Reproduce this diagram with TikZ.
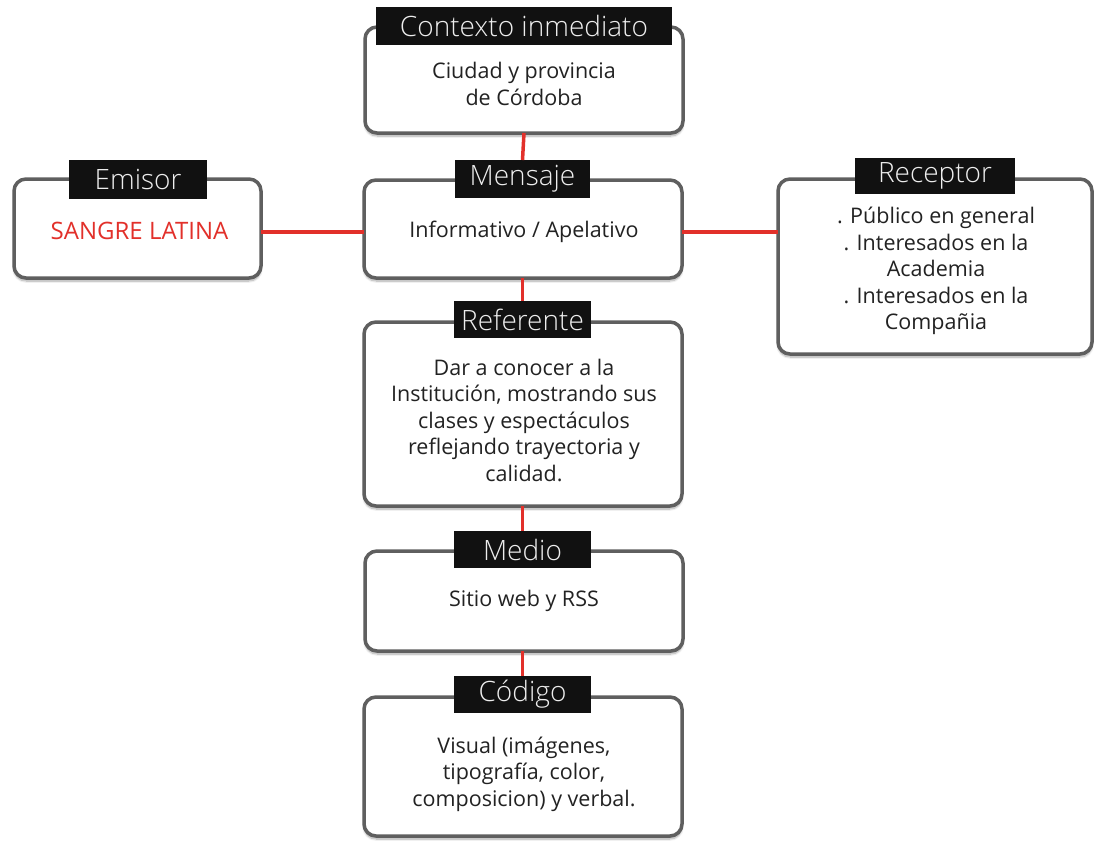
\documentclass[tikz,border=0pt]{standalone}
\usepackage{fontspec}
\setmainfont{Open Sans}
\IfFontExistsTF{Open Sans Light}{\newfontfamily\lblfont{Open Sans Light}}{\newfontfamily\lblfont{Open Sans}}
\usetikzlibrary{shadows.blur}
\definecolor{boxgray}{HTML}{5F5F5F}
\definecolor{lblack}{HTML}{111111}
\definecolor{linered}{HTML}{E2302A}
\definecolor{bodytext}{HTML}{222222}
\definecolor{lbltext}{HTML}{EEEEEE}
\begin{document}
\begin{tikzpicture}[x=1pt,y=-1pt,
  box/.style={draw=boxgray, line width=3.5pt, rounded corners=12pt, fill=white,
    blur shadow={shadow xshift=0pt, shadow yshift=-3pt, shadow blur steps=8, shadow opacity=35},
    inner sep=0pt, outer sep=0pt},
  lbl/.style={fill=lblack, text=lbltext, font=\lblfont\fontsize{28}{30}\selectfont, inner sep=0pt, outer sep=0pt},
  body/.style={font=\fontsize{21.5}{26.5}\selectfont, align=center, text=bodytext},
  link/.style={draw=linered, line width=3.5pt}]
\useasboundingbox (0,0) rectangle (1094,841);
% boxes
\node[box, minimum width=318pt, minimum height=106pt] (ctx) at (524,80) {};
\node[box, minimum width=247pt, minimum height=99pt] (emi) at (137.5,228.5) {};
\node[box, minimum width=318pt, minimum height=98pt] (msg) at (523,229) {};
\node[box, minimum width=314pt, minimum height=175pt] (rec) at (935,266.5) {};
\node[box, minimum width=318pt, minimum height=184pt] (ref) at (523,414) {};
\node[box, minimum width=318pt, minimum height=100pt] (med) at (524,601) {};
\node[box, minimum width=318pt, minimum height=139pt] (cod) at (523,766.5) {};
% labels
\node[lbl, minimum width=296pt, minimum height=38pt] (ctxl) at (524,26) {Contexto inmediato};
\node[lbl, minimum width=138pt, minimum height=39pt] (emil) at (138,179.5) {Emisor};
\node[lbl, minimum width=135pt, minimum height=38pt] (msgl) at (522.5,179) {Mensaje};
\node[lbl, minimum width=160pt, minimum height=36pt] (recl) at (935,176) {Receptor};
\node[lbl, minimum width=137pt, minimum height=37pt] (refl) at (522.5,319.5) {Referente};
\node[lbl, minimum width=137pt, minimum height=37pt] (medl) at (522.5,549.5) {Medio};
\node[lbl, minimum width=137pt, minimum height=37pt] (codl) at (522.5,694.5) {Código};
% body texts
\node[body] (ctxt) at (524,84) {Ciudad y provincia\\de Córdoba};
\node[body, text=linered, font=\fontsize{24}{28}\selectfont] (emit) at (139.5,231) {SANGRE LATINA};
\node[body] (msgt) at (524,232) {Informativo / Apelativo};
\node[body] (rect) at (936,271) {. Público en general\\. Interesados en la\\Academia\\. Interesados en la\\Compañia};
\node[body] (reft) at (524,420) {Dar a conocer a la\\Institución, mostrando sus\\clases y espectáculos\\reflejando trayectoria y\\calidad.};
\node[body] (medt) at (524,601) {Sitio web y RSS};
\node[body] (codt) at (524,774) {Visual (imágenes,\\tipografía, color,\\composicion) y verbal.};
% connectors
\draw[link] (ctx.south -| ctxl) -- (msgl.north);
\draw[link] (msg.south -| msgl) -- (refl.north);
\draw[link] (ref.south -| refl) -- (medl.north);
\draw[link] (med.south -| medl) -- (codl.north);
\draw[link] (emi.east |- msgt) -- (msg.west |- msgt);
\draw[link] (msg.east |- msgt) -- (rec.west |- msgt);
\end{tikzpicture}
\end{document}
